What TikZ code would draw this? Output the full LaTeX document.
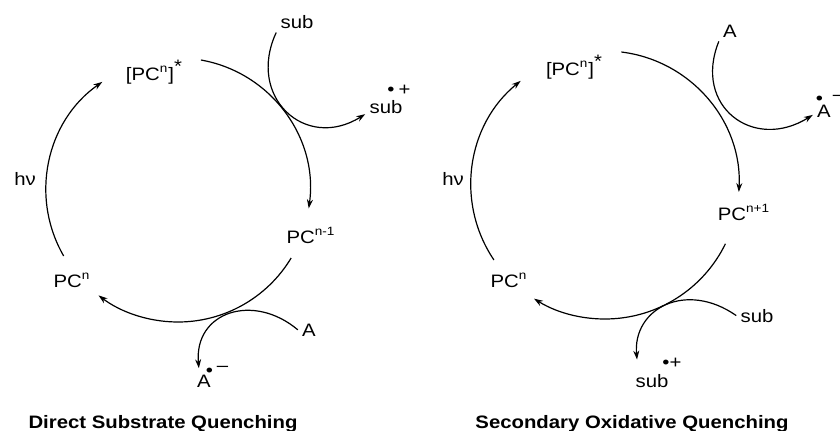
\documentclass[tikz,border=0pt]{standalone}
\usepackage{fontspec}
\setmainfont{Liberation Sans}[FakeStretch=1.13]
\usetikzlibrary{arrows.meta,positioning}

\begin{document}
\begin{tikzpicture}[x=0.5pt, y=0.5pt,
  lbl/.style={anchor=base, inner sep=2pt, font=\fontsize{9}{10}\selectfont},
  ttl/.style={anchor=base, inner sep=0pt, font=\fontsize{9}{10}\selectfont\bfseries},
  arr/.style={-{Stealth[length=4.5pt, width=3pt]}, line width=0.6pt}
]
\useasboundingbox (0,0) rectangle (840,430);

% direct substrate quenching
\coordinate (c1) at (178,240);
\node[lbl] (pcs1)  at (154,350) {[PC\textsuperscript{n}]\raisebox{4pt}{*}};
\node[lbl] (pcm1)  at (311,187) {PC\textsuperscript{n-1}};
\node[lbl] (pcn1)  at (72,143)  {PC\textsuperscript{n}};
\node[lbl] (hv1)   at (25,245)  {hν};
\node[lbl] (sub1)  at (297,402) {sub};
\node[lbl] (subr1) at (386,317) {sub\rlap{\smash{\kern-7.5pt\raisebox{9pt}{\textbullet\kern2pt+}}}};
\node[lbl] (a1)    at (309,94)  {A};
\node[lbl] (ar1)   at (204,43)  {A\rlap{\smash{\kern-2.5pt\raisebox{5.5pt}{\textbullet}\kern2pt\raisebox{8pt}{–}}}};
\node[ttl] (t1)    at (163,2)   {Direct Substrate Quenching};

\draw[arr] (c1) ++(80:132) arc[start angle=80, end angle=-8, radius=132];
\draw[arr] (c1) ++(-31:132) arc[start angle=-31, end angle=-127, radius=132];
\draw[arr] (c1) ++(210:132) arc[start angle=210, end angle=125, radius=132];
\draw[arr, looseness=1.5] (sub1.south west) to[out=245, in=212] (subr1.200);
\draw[arr, looseness=1.4, shorten >=1pt] (a1.west) to[out=140, in=95] (ar1.115);

% secondary oxidative quenching
\coordinate (c2) at (605,245);
\node[lbl] (pcs2)  at (574,355) {[PC\textsuperscript{n}]\raisebox{4pt}{*}};
\node[lbl] (pcp2)  at (744,210) {PC\textsuperscript{n+1}};
\node[lbl] (pcn2)  at (509,143) {PC\textsuperscript{n}};
\node[lbl] (hv2)   at (453,245) {hν};
\node[lbl] (a2)    at (730,393) {A};
\node[lbl] (ar2)   at (824,313) {A\rlap{\smash{\kern-7.5pt\raisebox{6.5pt}{\textbullet}\kern5pt\raisebox{8.5pt}{–}}}};
\node[lbl] (sub2)  at (757,108) {sub};
\node[lbl] (subr2) at (652,43)  {sub\rlap{\smash{\kern-3pt\raisebox{9.5pt}{\textbullet+}}}};
\node[ttl] (t2)    at (632,2)   {Secondary Oxidative Quenching};

\draw[arr] (c2) ++(83:134) arc[start angle=83, end angle=-3, radius=134];
\draw[arr] (c2) ++(-26:134) arc[start angle=-26, end angle=-122, radius=134];
\draw[arr] (c2) ++(214:134) arc[start angle=214, end angle=129, radius=134];
\draw[arr, looseness=1.5] (a2.south west) to[out=248, in=212] (ar2.200);
\draw[arr, looseness=1.4, shorten >=5pt] (sub2.west) to[out=145, in=95] (subr2.142);
\end{tikzpicture}
\end{document}
